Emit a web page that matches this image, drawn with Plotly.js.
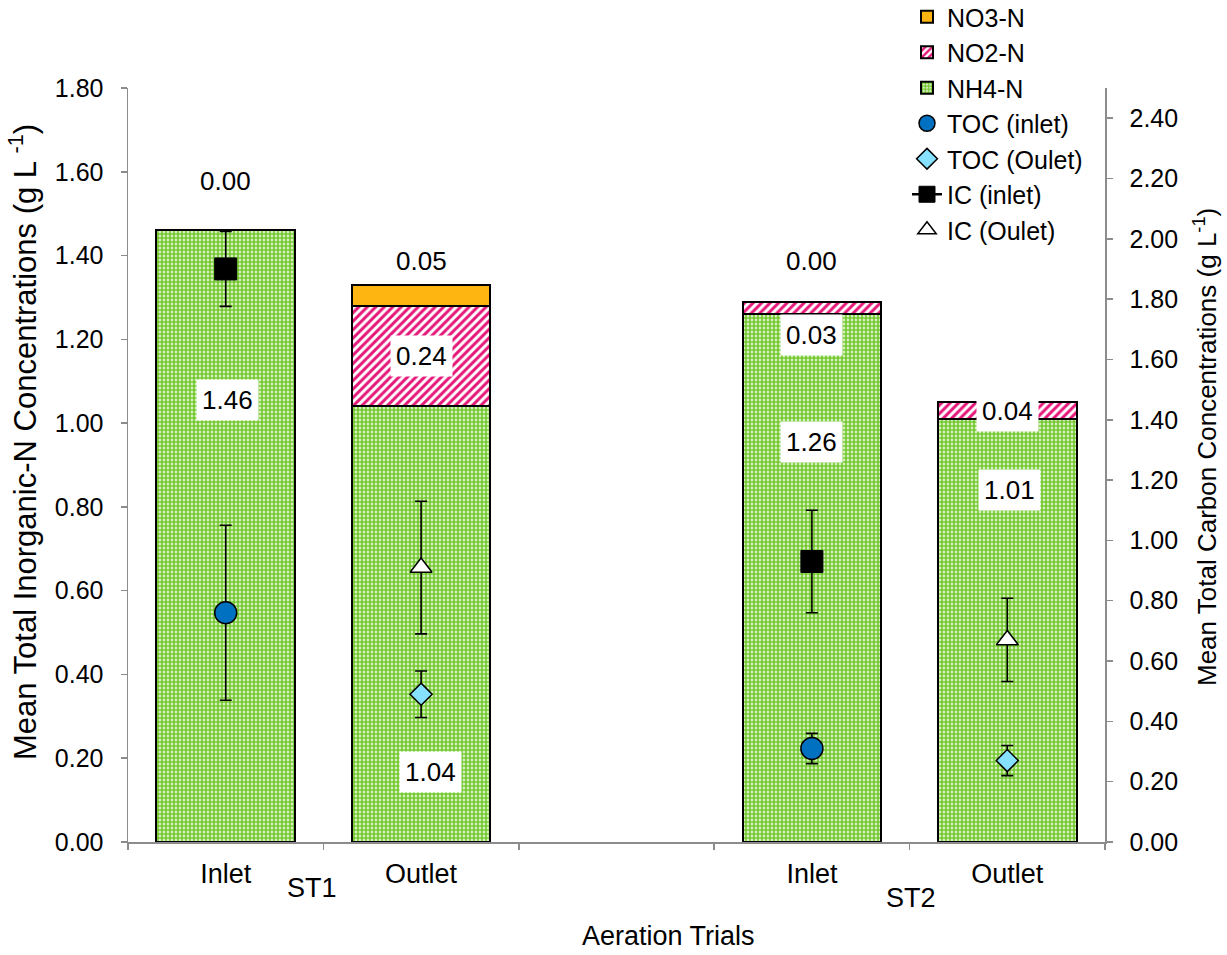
<!DOCTYPE html>
<html>
<head>
<meta charset="utf-8">
<script src="https://cdn.plot.ly/plotly-3.0.1.min.js"></script>
<style>html,body{margin:0;padding:0;background:#fff;}#chart{width:1227px;height:955px;}</style>
</head>
<body>
<div id="chart"></div>
<script>
// ---------- data ----------
const categories = ["Inlet", "Outlet", " ", "Inlet\u200b", "Outlet\u200b"];
const tickLabels = ["Inlet", "Outlet", "", "Inlet", "Outlet"];
const barCats = ["Inlet", "Outlet", "Inlet\u200b", "Outlet\u200b"];
const groupLabels = ["ST1", "ST2"];

const nh4 = [1.46, 1.04, 1.26, 1.01];
const no2 = [0.00, 0.24, 0.03, 0.04];
const no3 = [0.00, 0.05, 0.00, 0.00];

// carbon (right axis), one value per category, null = none
const tocInlet     = [0.76, null, null, 0.31, null];
const tocInletErr  = [0.29, null, null, 0.05, null];
const tocOutlet    = [null, 0.49, null, null, 0.27];
const tocOutletErr = [null, 0.077, null, null, 0.05];
const icInlet      = [1.90, null, null, 0.93, null];
const icInletErr   = [0.124, null, null, 0.17, null];
const icOutlet     = [null, 0.91, null, null, 0.67];
const icOutletErr  = [null, 0.22, null, null, 0.138];

// ---------- layout helpers (label placement, not data) ----------
const no3LabelY = [1.578, 1.387, 1.386, null];
const no2LabelY = [null, null, 1.21, null];   // null -> middle of segment
const nh4LabelY = [1.054, 0.168, 0.955, 0.84];
const nh4LabelShift = [2, 9, 0, 2];

const FONT = "Liberation Sans, Arial, sans-serif";
const AXIS_GRAY = "#8c8c8c";

const errStyle = (arr) => ({type: "data", array: arr, visible: true, color: "#000", thickness: 1.6, width: 6});

const traces = [
  {type: "bar", name: "NH4-N", x: barCats, y: nh4, yaxis: "y", legendrank: 3,
   marker: {color: "#72C82C", line: {color: "#000", width: 2},
            pattern: {shape: ".", fgcolor: "#72C82C", bgcolor: "#ffffff", size: 4, solidity: 0.72, fillmode: "replace"}}},
  {type: "bar", name: "NO2-N", x: barCats, y: no2, yaxis: "y", legendrank: 2,
   marker: {color: "#E5177A", line: {color: "#000", width: 2},
            pattern: {shape: "/", fgcolor: "#E5177A", bgcolor: "#ffffff", size: 6, solidity: 0.5, fillmode: "replace"}}},
  {type: "bar", name: "NO3-N", x: barCats, y: no3, yaxis: "y", legendrank: 1,
   marker: {color: "#FFB511", line: {color: "#000", width: 2}}},
  {type: "scatter", mode: "markers", name: "TOC (inlet)", x: categories, y: tocInlet, yaxis: "y2", legendrank: 4,
   error_y: errStyle(tocInletErr),
   marker: {symbol: "circle", size: 22, color: "#0070C0", line: {color: "#000", width: 1.5}}},
  {type: "scatter", mode: "markers", name: "TOC (Oulet)", x: categories, y: tocOutlet, yaxis: "y2", legendrank: 5,
   error_y: errStyle(tocOutletErr),
   marker: {symbol: "diamond", size: 17, color: "#86E1FF", line: {color: "#000", width: 1.5}}},
  {type: "scatter", mode: "lines+markers", name: "IC (inlet)", x: categories, y: icInlet, yaxis: "y2", legendrank: 6,
   connectgaps: false, line: {color: "#000", width: 2.5},
   error_y: errStyle(icInletErr),
   marker: {symbol: "square", size: 22, color: "#000", line: {color: "#000", width: 1}}},
  {type: "scatter", mode: "markers", name: "IC (Oulet)", x: categories, y: icOutlet, yaxis: "y2", legendrank: 7,
   error_y: errStyle(icOutletErr),
   marker: {symbol: "triangle-up", size: 19, color: "#ffffff", line: {color: "#000", width: 1.5}}}
];

// ---------- annotations ----------
const annotations = [];
const labelFont = {family: FONT, size: 26, color: "#000"};
barCats.forEach((c, i) => {
  if (no3LabelY[i] !== null) {
    annotations.push({x: c, y: no3LabelY[i], xref: "x", yref: "y", text: no3[i].toFixed(2),
      showarrow: false, font: labelFont});
  }
  if (no2[i] > 0) {
    const yy = no2LabelY[i] !== null ? no2LabelY[i] : nh4[i] + no2[i] / 2;
    annotations.push({x: c, y: yy, xref: "x", yref: "y", text: no2[i].toFixed(2),
      showarrow: false, font: labelFont, bgcolor: "#ffffff", borderpad: 5});
  }
  annotations.push({x: c, y: nh4LabelY[i], xref: "x", yref: "y", text: nh4[i].toFixed(2),
    xshift: nh4LabelShift[i], showarrow: false, font: labelFont, bgcolor: "#ffffff", borderpad: 5});
});
// group labels and axis titles (pixel positions converted to paper fractions of the 977x754 plot area)
const px = (v) => (v - 128) / 977;
const py = (v) => (842 - v) / 754;
const paperText = (x, y, text, size, angle) => ({
  x: px(x), y: py(y), xref: "paper", yref: "paper", xanchor: "center", yanchor: "middle",
  text: text, textangle: angle || 0, showarrow: false, font: {family: FONT, size: size, color: "#000"}
});
annotations.push(paperText(312, 888, groupLabels[0], 27));
annotations.push(paperText(911, 898, groupLabels[1], 27));
annotations.push(paperText(668, 936, "Aeration Trials", 27));
annotations.push(paperText(23, 442, "Mean Total Inorganic-N Concentrations (g L <sup>-1</sup>)", 31, -90));
annotations.push(paperText(1205, 447, "Mean Total Carbon Concentrations (g L<sup>-1</sup>)", 26, -90));

const layout = {
  width: 1227, height: 955,
  margin: {l: 128, r: 122, t: 88, b: 113, pad: 0, autoexpand: false},
  paper_bgcolor: "#ffffff", plot_bgcolor: "#ffffff",
  font: {family: FONT, size: 25, color: "#000"},
  barmode: "stack", bargap: 0.29,
  showlegend: true,
  legend: {x: px(907), xanchor: "left", y: py(-6), yanchor: "top", bgcolor: "rgba(0,0,0,0)",
           font: {family: FONT, size: 25, color: "#000"}, traceorder: "normal"},
  xaxis: {type: "category", categoryorder: "array", categoryarray: categories,
          tickvals: categories, ticktext: tickLabels, tickson: "boundaries",
          range: [-0.5, 4.5], showline: true, linecolor: AXIS_GRAY, linewidth: 1.5,
          ticks: "outside", ticklen: 6, tickcolor: AXIS_GRAY, tickwidth: 1.5,
          ticklabelstandoff: 7, tickfont: {family: FONT, size: 27, color: "#000"},
          showgrid: false, zeroline: false, fixedrange: true},
  yaxis: {range: [0, 1.8], tick0: 0, dtick: 0.2, tickformat: ".2f",
          showline: true, linecolor: AXIS_GRAY, linewidth: 1.5,
          ticks: "outside", ticklen: 6, tickcolor: AXIS_GRAY, tickwidth: 1.5,
          ticklabelstandoff: 12, tickfont: {family: FONT, size: 25, color: "#000"},
          showgrid: false, zeroline: false},
  yaxis2: {range: [0, 2.5], tickvals: [0,0.2,0.4,0.6,0.8,1.0,1.2,1.4,1.6,1.8,2.0,2.2,2.4], tickformat: ".2f",
           overlaying: "y", side: "right",
           showline: true, linecolor: AXIS_GRAY, linewidth: 1.5,
           ticks: "outside", ticklen: 6, tickcolor: AXIS_GRAY, tickwidth: 1.5,
           ticklabelstandoff: 12, tickfont: {family: FONT, size: 25, color: "#000"},
           showgrid: false, zeroline: false},
  annotations: annotations
};

Plotly.newPlot("chart", traces, layout, {displayModeBar: false, staticPlot: true});
</script>
</body>
</html>
